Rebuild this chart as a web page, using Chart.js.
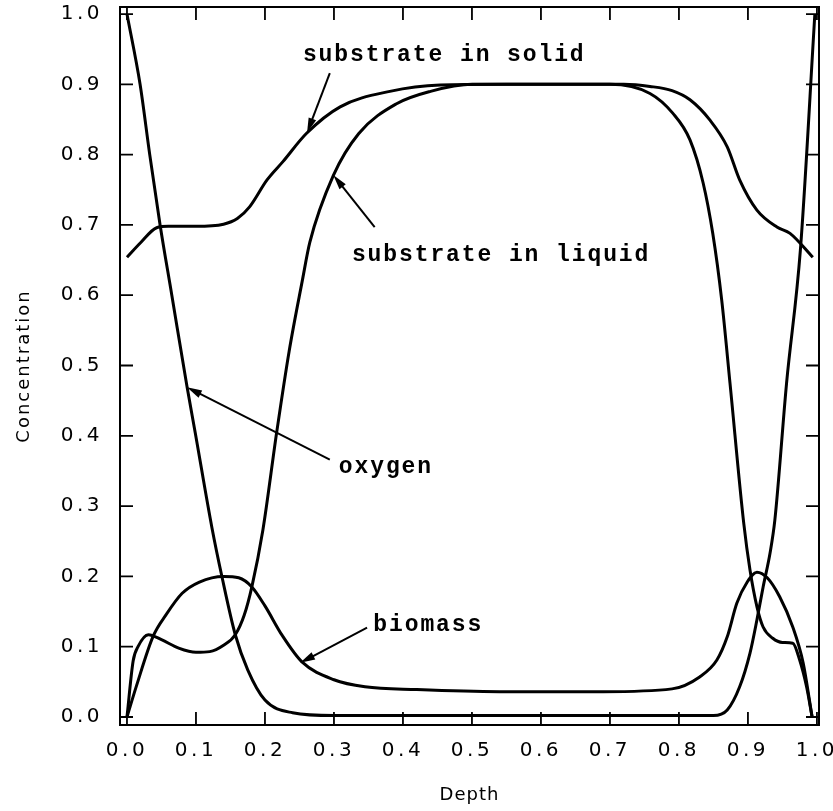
<!DOCTYPE html>
<html>
<head>
<meta charset="utf-8">
<script src="https://cdn.jsdelivr.net/npm/chart.js@4.4.1/dist/chart.umd.min.js"></script>
<style>
  html, body { margin: 0; padding: 0; background: #fff; }
  #wrap { width: 833px; height: 811px; }
</style>
</head>
<body>
<div id="wrap"><canvas id="perfil" width="833" height="811"></canvas></div>
<script>
// Ejes
const xTicks = [0.0, 0.1, 0.2, 0.3, 0.4, 0.5, 0.6, 0.7, 0.8, 0.9, 1.0];
const yTicks = [0.0, 0.1, 0.2, 0.3, 0.4, 0.5, 0.6, 0.7, 0.8, 0.9, 1.0];

// Oxígeno
const oxygenDepth = [0, 0.019, 0.033, 0.048, 0.065, 0.087, 0.099, 0.123, 0.138, 0.157, 0.175, 0.2, 0.24, 0.3,
  0.85, 0.87, 0.888, 0.903, 0.913, 0.922, 0.932, 0.939, 0.956, 0.976, 0.997];
const oxygenConc = [1.0, 0.9, 0.8, 0.7, 0.6, 0.47, 0.404, 0.27, 0.198, 0.117, 0.067, 0.024, 0.006, 0.002,
  0.002, 0.01, 0.043, 0.091, 0.138, 0.185, 0.233, 0.28, 0.475, 0.664, 1.0];

// Sustrato en sólido
const solidDepth = [0, 0.02, 0.043, 0.06, 0.1, 0.14, 0.16, 0.178, 0.203, 0.226, 0.26, 0.309, 0.381, 0.454, 0.55, 0.65,
  0.72, 0.758, 0.79, 0.816, 0.845, 0.87, 0.888, 0.913, 0.942, 0.961, 0.994];
const solidConc = [0.654, 0.675, 0.696, 0.698, 0.698, 0.701, 0.709, 0.726, 0.764, 0.79, 0.83, 0.868, 0.89, 0.899, 0.9, 0.9,
  0.9, 0.897, 0.891, 0.878, 0.849, 0.811, 0.764, 0.721, 0.697, 0.688, 0.654];

// Sustrato en líquido
const liquidDepth = [0, 0.009, 0.016, 0.031, 0.05, 0.075, 0.1, 0.12, 0.14, 0.157, 0.17, 0.181, 0.197, 0.217, 0.235,
  0.254, 0.265, 0.299, 0.336, 0.39, 0.44, 0.5, 0.6, 0.7, 0.758, 0.791, 0.816, 0.835, 0.849, 0.862, 0.874, 0.894,
  0.903, 0.913, 0.922, 0.936, 0.95, 0.965, 0.975, 0.985, 0.993];
const liquidConc = [0, 0.08, 0.1, 0.117, 0.11, 0.098, 0.092, 0.093, 0.102, 0.117, 0.145, 0.185, 0.266, 0.405, 0.52,
  0.62, 0.675, 0.77, 0.83, 0.872, 0.89, 0.9, 0.9, 0.9, 0.887, 0.859, 0.821, 0.76, 0.688, 0.593, 0.475, 0.275,
  0.209, 0.157, 0.128, 0.112, 0.106, 0.105, 0.081, 0.043, 0.0];

// Biomasa
const biomassDepth = [0, 0.014, 0.038, 0.057, 0.08, 0.105, 0.14, 0.162, 0.181, 0.2, 0.225, 0.254, 0.3, 0.345, 0.42,
  0.54, 0.69, 0.79, 0.83, 0.855, 0.87, 0.884, 0.899, 0.913, 0.928, 0.946, 0.965, 0.98, 0.993];
const biomassConc = [0, 0.045, 0.115, 0.146, 0.176, 0.192, 0.2, 0.198, 0.185, 0.158, 0.116, 0.078, 0.053, 0.043, 0.039,
  0.036, 0.036, 0.04, 0.057, 0.081, 0.114, 0.162, 0.192, 0.206, 0.198, 0.171, 0.128, 0.077, 0.0];

// Etiquetas con flecha (en unidades de datos)
const etiquetas = [
  { texto: "substrate in solid",  x: 0.255, y: 0.942, desde: [0.294, 0.916], hasta: [0.261, 0.831] },
  { texto: "substrate in liquid", x: 0.326, y: 0.657, desde: [0.359, 0.697], hasta: [0.299, 0.771] },
  { texto: "oxygen",              x: 0.307, y: 0.356, desde: [0.294, 0.366], hasta: [0.087, 0.469] },
  { texto: "biomass",             x: 0.357, y: 0.131, desde: [0.348, 0.127], hasta: [0.251, 0.077] }
];

function puntos(xs, ys) {
  return xs.map((x, i) => ({ x: x, y: ys[i] }));
}

function serie(label, xs, ys) {
  return {
    label: label,
    data: puntos(xs, ys),
    borderColor: "#000",
    borderWidth: 3,
    pointRadius: 0,
    fill: false,
    cubicInterpolationMode: "monotone"
  };
}

// Espaciado de letras para los números de los ejes
const espaciado = {
  id: "espaciado",
  beforeDraw(chart) {
    chart.ctx.letterSpacing = "3.5px";
  },
  beforeDatasetsDraw(chart) {
    chart.ctx.letterSpacing = "0px";
  }
};

// Marco y marcas hacia adentro
const marco = {
  id: "marco",
  afterDatasetsDraw(chart) {
    const { ctx, chartArea: a, scales } = chart;
    ctx.save();
    ctx.strokeStyle = "#000";
    ctx.lineWidth = 2;
    ctx.strokeRect(a.left, a.top, a.right - a.left, a.bottom - a.top);
    ctx.lineWidth = 1.8;
    ctx.beginPath();
    xTicks.forEach(v => {
      const px = scales.x.getPixelForValue(v);
      ctx.moveTo(px, a.bottom); ctx.lineTo(px, a.bottom - 13);
      ctx.moveTo(px, a.top); ctx.lineTo(px, a.top + 13);
    });
    yTicks.forEach(v => {
      const py = scales.y.getPixelForValue(v);
      ctx.moveTo(a.left, py); ctx.lineTo(a.left + 13, py);
      ctx.moveTo(a.right, py); ctx.lineTo(a.right - 13, py);
    });
    ctx.stroke();
    ctx.restore();
  }
};

// Textos, flechas y títulos de ejes
const anotaciones = {
  id: "anotaciones",
  afterDraw(chart) {
    const { ctx, scales } = chart;
    const sx = v => scales.x.getPixelForValue(v);
    const sy = v => scales.y.getPixelForValue(v);
    ctx.save();
    ctx.fillStyle = "#000";
    ctx.strokeStyle = "#000";

    ctx.font = "bold 23px 'Liberation Mono', monospace";
    ctx.letterSpacing = "1.9px";
    ctx.textAlign = "left";
    ctx.textBaseline = "middle";
    etiquetas.forEach(e => {
      ctx.fillText(e.texto, sx(e.x), sy(e.y));
      const x0 = sx(e.desde[0]), y0 = sy(e.desde[1]);
      const x1 = sx(e.hasta[0]), y1 = sy(e.hasta[1]);
      const ang = Math.atan2(y1 - y0, x1 - x0);
      const largo = 15, ancho = 4;
      ctx.lineWidth = 2;
      ctx.beginPath();
      ctx.moveTo(x0, y0);
      ctx.lineTo(x1 - Math.cos(ang) * largo * 0.8, y1 - Math.sin(ang) * largo * 0.8);
      ctx.stroke();
      ctx.beginPath();
      ctx.moveTo(x1, y1);
      ctx.lineTo(x1 - Math.cos(ang) * largo - Math.sin(ang) * ancho, y1 - Math.sin(ang) * largo + Math.cos(ang) * ancho);
      ctx.lineTo(x1 - Math.cos(ang) * largo + Math.sin(ang) * ancho, y1 - Math.sin(ang) * largo - Math.cos(ang) * ancho);
      ctx.closePath();
      ctx.fill();
    });

    // títulos de los ejes
    ctx.font = "18px 'DejaVu Sans', sans-serif";
    ctx.textAlign = "center";
    ctx.letterSpacing = "1px";
    ctx.fillText("Depth", (chart.chartArea.left + chart.chartArea.right) / 2, 795);
    ctx.letterSpacing = "2px";
    ctx.translate(24, (chart.chartArea.top + chart.chartArea.bottom) / 2);
    ctx.rotate(-Math.PI / 2);
    ctx.fillText("Concentration", 0, 0);
    ctx.restore();
  }
};

new Chart(document.getElementById("perfil"), {
  type: "line",
  data: {
    datasets: [
      serie("oxygen", oxygenDepth, oxygenConc),
      serie("substrate in solid", solidDepth, solidConc),
      serie("substrate in liquid", liquidDepth, liquidConc),
      serie("biomass", biomassDepth, biomassConc)
    ]
  },
  options: {
    responsive: false,
    animation: false,
    layout: { padding: { top: 7, right: 14, left: 0, bottom: 0 } },
    plugins: {
      legend: { display: false },
      tooltip: { enabled: false }
    },
    scales: {
      x: {
        type: "linear",
        min: -0.0101,
        max: 1.003,
        grid: { display: false, drawTicks: false },
        border: { display: false },
        afterBuildTicks: s => { s.ticks = xTicks.map(v => ({ value: v })); },
        afterFit: s => { s.height = 86; s.paddingLeft = 0; s.paddingRight = 0; },
        ticks: {
          color: "#000",
          padding: 14,
          maxRotation: 0,
          font: { family: "'DejaVu Sans', sans-serif", size: 20 },
          callback: v => v.toFixed(1)
        }
      },
      y: {
        type: "linear",
        min: -0.0114,
        max: 1.01,
        grid: { display: false, drawTicks: false },
        border: { display: false },
        afterBuildTicks: s => { s.ticks = yTicks.map(v => ({ value: v })); },
        afterFit: s => { s.width = 120; s.paddingTop = 0; s.paddingBottom = 0; },
        ticks: {
          color: "#000",
          padding: 17,
          font: { family: "'DejaVu Sans', sans-serif", size: 20 },
          callback: v => v.toFixed(1)
        }
      }
    }
  },
  plugins: [espaciado, marco, anotaciones]
});
</script>
</body>
</html>
